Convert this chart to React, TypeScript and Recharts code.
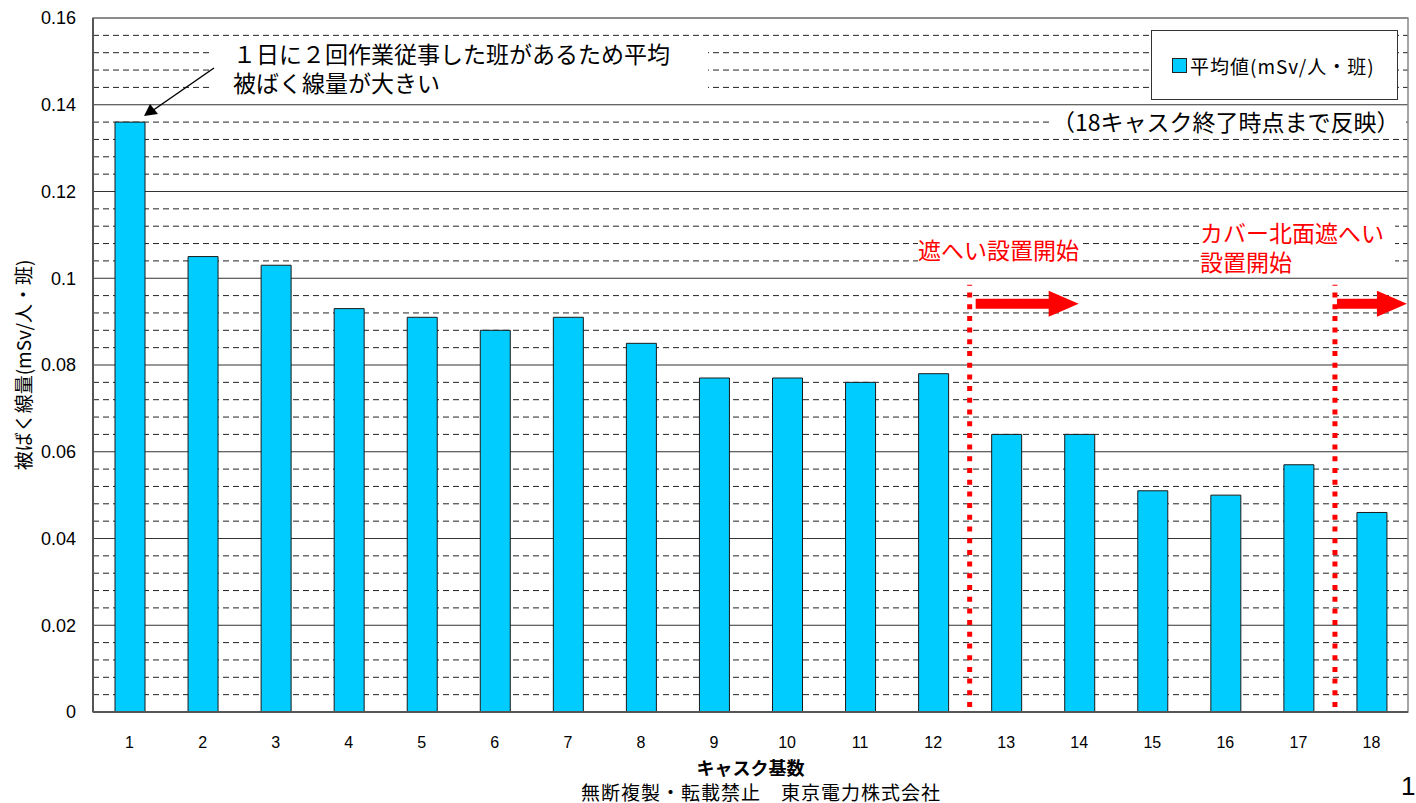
import React from "react";
import {
  BarChart,
  Bar,
  XAxis,
  YAxis,
  CartesianGrid,
  ReferenceLine,
  ReferenceArea,
  Legend,
} from "recharts";

// キャスク基数ごとの平均被ばく線量 (mSv/人・班)
const casks = ["1", "2", "3", "4", "5", "6", "7", "8", "9", "10", "11", "12", "13", "14", "15", "16", "17", "18"];
const avgDose = [
  0.136, 0.105, 0.103, 0.093, 0.091, 0.088, 0.091, 0.085, 0.077,
  0.077, 0.076, 0.078, 0.064, 0.064, 0.051, 0.05, 0.057, 0.046,
];
const yTicks = [0, 0.02, 0.04, 0.06, 0.08, 0.1, 0.12, 0.14, 0.16];
const Y_MAX = 0.16;

const SERIES_NAME = "平均値(mSv/人・班)";
const BAR_COLOR = "#00ccff";
const FONT = "'Liberation Sans', 'Noto Sans CJK JP', sans-serif";
const JP_FONT = "'Noto Sans CJK JP', sans-serif";

// 補助目盛り (主目盛りの間を5等分)
const minorLines = yTicks.slice(1).flatMap((t, i) =>
  [1, 2, 3, 4].map((k) => yTicks[i] + ((t - yTicks[i]) * k) / 5)
);

const data = casks.map((cask, i) => ({ cask, avg: avgDose[i] }));

// 補助目盛り線の位置 (プロット領域に対する線形変換)
const minorCoords = ({ offset }: any) => {
  const top = offset?.top ?? 18;
  const h = offset?.height ?? 694;
  return minorLines.map((v) => top + h * (1 - v / Y_MAX));
};

// 遮へい設置の区切り線 (赤点線) と右向き矢印
const shieldMarker = (arrowLen: number, gap: number) => (props: any) => {
  const { x1, y1, y2 } = props;
  const top = Math.min(y1, y2);
  const bottom = Math.max(y1, y2);
  const ay = top + 19;
  const sx = x1 + gap;
  const tip = sx + arrowLen;
  const hx = tip - 30;
  return (
    <g>
      <line
        x1={x1}
        y1={bottom - 5}
        x2={x1}
        y2={top}
        stroke="#ff0000"
        strokeWidth={5}
        strokeDasharray="5 6.7"
      />
      <polygon
        points={`${sx},${ay - 5} ${hx},${ay - 5} ${hx},${ay - 13} ${tip},${ay} ${hx},${ay + 13} ${hx},${ay + 5} ${sx},${ay + 5}`}
        fill="#ff0000"
      />
    </g>
  );
};

const YTitle = ({ viewBox }: any) => {
  const x = viewBox.x + 22;
  const y = viewBox.y + viewBox.height / 2;
  return (
    <text
      x={x}
      y={y}
      transform={`rotate(-90, ${x}, ${y})`}
      textAnchor="middle"
      dominantBaseline="central"
      fontSize={19}
      fontFamily={JP_FONT}
      fill="#000"
    >
      被ばく線量(mSv/人・班)
    </text>
  );
};

const XTitle = ({ viewBox }: any) => (
  <text
    x={viewBox.x + viewBox.width / 2}
    y={767}
    textAnchor="middle"
    dominantBaseline="central"
    fontSize={18}
    fontWeight="bold"
    fontFamily={JP_FONT}
    fill="#000"
  >
    キャスク基数
  </text>
);

const LegendBox = ({ payload }: any) => {
  const item = payload && payload[0];
  return (
    <div
      style={{
        width: 247,
        height: 70,
        boxSizing: "border-box",
        border: "1px solid #333",
        background: "#fff",
        display: "flex",
        alignItems: "center",
        paddingLeft: 20,
        fontFamily: JP_FONT,
        fontSize: 19,
        letterSpacing: 1,
        color: "#000",
      }}
    >
      <span
        style={{
          display: "inline-block",
          width: 13,
          height: 13,
          background: item ? item.color : BAR_COLOR,
          border: "1px solid #222",
          marginRight: 3,
        }}
      />
      <span>{item ? item.value : SERIES_NAME}</span>
    </div>
  );
};

const noteBox: React.CSSProperties = {
  position: "absolute",
  background: "#fff",
  fontFamily: JP_FONT,
  fontSize: 23,
  lineHeight: "29px",
  whiteSpace: "nowrap",
};

export default function App() {
  return (
    <div
      style={{
        position: "absolute",
        left: 0,
        top: 0,
        width: 1416,
        height: 803,
        background: "#fff",
        fontFamily: FONT,
      }}
    >
      <BarChart
        width={1416}
        height={803}
        data={data}
        margin={{ top: 18, right: 8, bottom: 0, left: 0 }}
        barCategoryGap={0}
      >
        <CartesianGrid
          vertical={false}
          horizontalCoordinatesGenerator={minorCoords}
          stroke="#222"
          strokeDasharray="6 4"
        />
        <CartesianGrid vertical={false} horizontalValues={yTicks} stroke="#333" />
        <ReferenceArea y1={0} y2={Y_MAX} fill="none" stroke="#888" strokeWidth={1.5} />
        <XAxis
          dataKey="cask"
          height={91}
          tickLine={false}
          tickSize={0}
          tickMargin={25}
          axisLine={{ stroke: "#555", strokeWidth: 2 }}
          tick={{ fontSize: 16, fill: "#000", fontFamily: FONT }}
          interval={0}
          label={<XTitle />}
        />
        <YAxis
          width={93}
          domain={[0, Y_MAX]}
          ticks={yTicks}
          tickLine={false}
          tickSize={0}
          tickMargin={17}
          axisLine={{ stroke: "#555", strokeWidth: 2 }}
          tick={{ fontSize: 18, fill: "#000", fontFamily: FONT }}
          label={<YTitle />}
        />
        <Bar
          dataKey="avg"
          name={SERIES_NAME}
          fill={BAR_COLOR}
          stroke="#1a1a1a"
          strokeWidth={1}
          barSize={30}
          isAnimationActive={false}
        />
        <ReferenceLine
          segment={[
            { x: "13", y: 0 },
            { x: "13", y: 0.0985 },
          ]}
          position="start"
          ifOverflow="visible"
          shape={shieldMarker(103, 6)}
        />
        <ReferenceLine
          segment={[
            { x: "18", y: 0 },
            { x: "18", y: 0.0985 },
          ]}
          position="start"
          ifOverflow="visible"
          shape={shieldMarker(70, 2)}
        />
        <Legend
          layout="vertical"
          align="center"
          verticalAlign="middle"
          wrapperStyle={{ left: 1151, top: 30, width: 247 }}
          content={<LegendBox />}
        />
      </BarChart>

      <div style={{ ...noteBox, left: 213, top: 39, width: 475, paddingLeft: 20, paddingBottom: 4 }}>
        １日に２回作業従事した班があるため平均
        <br />
        被ばく線量が大きい
      </div>
      <svg
        width={1416}
        height={803}
        style={{ position: "absolute", left: 0, top: 0, pointerEvents: "none" }}
      >
        <line x1={214} y1={68} x2={152} y2={111} stroke="#000" strokeWidth={1.5} />
        <polygon points="144,116 150,104 158,114" fill="#000" />
      </svg>

      <div style={{ ...noteBox, left: 1052, top: 107, paddingRight: 6 }}>
        （18キャスク終了時点まで反映）
      </div>

      <div style={{ ...noteBox, left: 918, top: 235, color: "#ff0000", paddingRight: 4 }}>
        遮へい設置開始
      </div>
      <div style={{ ...noteBox, left: 1200, top: 218, color: "#ff0000", width: 195 }}>
        カバー北面遮へい
        <br />
        設置開始
      </div>

      <div
        style={{
          position: "absolute",
          left: 0,
          width: 1522,
          top: 781,
          textAlign: "center",
          fontFamily: JP_FONT,
          fontSize: 19,
          lineHeight: "22px",
          letterSpacing: 1,
          whiteSpace: "nowrap",
        }}
      >
        無断複製・転載禁止　東京電力株式会社
      </div>
      <div
        style={{
          position: "absolute",
          left: 1401,
          top: 772,
          fontFamily: FONT,
          fontSize: 26,
          lineHeight: "28px",
        }}
      >
        1
      </div>
    </div>
  );
}
